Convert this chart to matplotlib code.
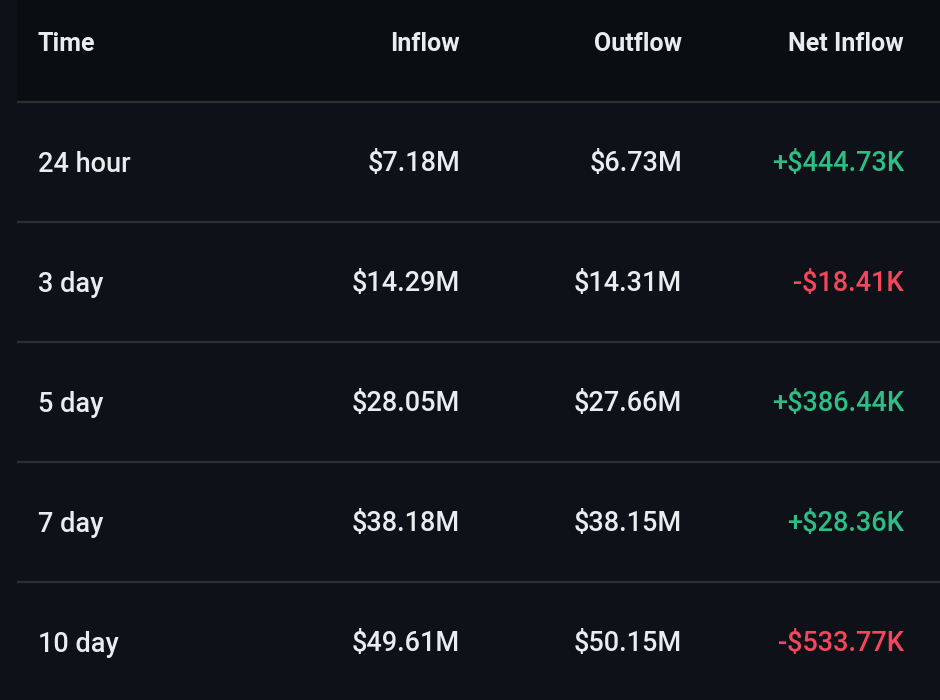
import matplotlib
matplotlib.use("Agg")
import matplotlib.pyplot as plt
from matplotlib.patches import Rectangle

headers = ["Time", "Inflow", "Outflow", "Net Inflow"]
periods = ["24 hour", "3 day", "5 day", "7 day", "10 day"]
inflow = ["$7.18M", "$14.29M", "$28.05M", "$38.18M", "$49.61M"]
outflow = ["$6.73M", "$14.31M", "$27.66M", "$38.15M", "$50.15M"]
net_inflow = ["+$444.73K", "-$18.41K", "+$386.44K", "+$28.36K", "-$533.77K"]

BODY_BG = "#0e1118"
HEAD_BG = "#0b0e11"
LINE = "#2b2f36"
TEXT = "#eaecef"
GREEN = "#2ebd85"
RED = "#f6465d"
FONT = "Roboto"

fig = plt.figure(figsize=(9.4, 7.0), dpi=100)
fig.patch.set_facecolor(BODY_BG)
ax = fig.add_axes([0, 0, 1, 1])
ax.set_xlim(0, 940)
ax.set_ylim(700, 0)
ax.axis("off")

left = 17
head_h = 102
row_h = 120
ax.add_patch(Rectangle((left, 0), 940 - left, head_h, facecolor=HEAD_BG, edgecolor="none"))

col_x = [38, 460, 682, 904]
col_ha = ["left", "right", "right", "right"]

for x, ha, h in zip(col_x, col_ha, headers):
    ax.text(x, head_h / 2 - 7, h, ha=ha, va="center", color=TEXT,
            fontsize=18, fontweight="bold", family=FONT)

for i, (p, a, b, n) in enumerate(zip(periods, inflow, outflow, net_inflow)):
    top = head_h + i * row_h
    ax.plot([left, 940], [top, top], color=LINE, lw=1.6, solid_capstyle="butt")
    yc = top + row_h / 2 + 2
    ncol = GREEN if n.startswith("+") else RED
    for x, ha, t, c in zip(col_x, col_ha, [p, a, b, n], [TEXT, TEXT, TEXT, ncol]):
        ax.text(x, yc, t, ha=ha, va="center", color=c, fontsize=19.5,
                fontweight="medium", family=FONT)

fig.savefig("out.png", dpi=100, facecolor=fig.get_facecolor())
